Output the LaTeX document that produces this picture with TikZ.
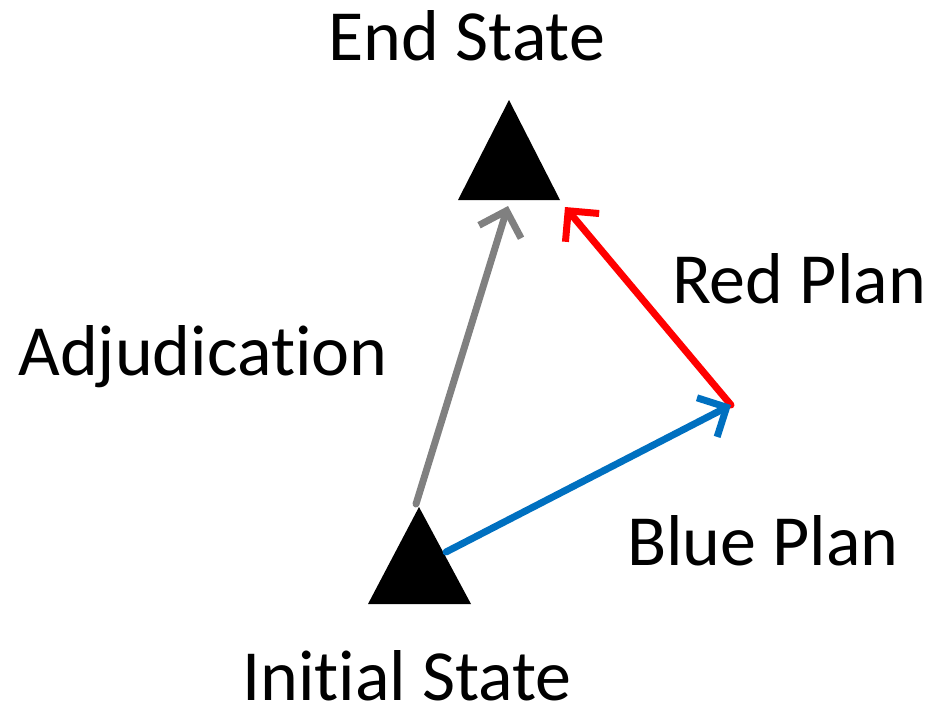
\documentclass[tikz,border=0pt]{standalone}
\usepackage{fontspec}
\setmainfont[Ligatures=NoCommon]{Carlito}
\usetikzlibrary{arrows.meta}

\definecolor{planred}{RGB}{255,0,0}
\definecolor{planblue}{RGB}{0,112,192}
\definecolor{adjgray}{RGB}{128,128,128}

\begin{document}
\begin{tikzpicture}[x=1pt,y=-1pt,
    label text/.style={anchor=base,inner sep=0pt,font=\fontsize{72}{80}\selectfont},
    plan arrow/.style={line width=7pt,line cap=round,
        -{Straight Barb[length=22pt,width=44pt,line width=7pt]}},
    state/.style={fill=black}]
    \useasboundingbox (0,0) rectangle (932,720);
    %\draw[help lines] (0,0) grid[step=50] (932,720);
    % states
    \fill[state] (509,100) -- (560,200) -- (458,200) -- cycle;
    \fill[state] (419,507) -- (471,604) -- (368,604) -- cycle;
    \coordinate (end) at (508,206);
    \coordinate (endright) at (565,207);
    \coordinate (initial) at (416,504);
    \coordinate (initialright) at (446,552);
    \coordinate (turn) at (731,405);
    % plans
    \draw[plan arrow,adjgray] (initial) -- (end);
    \draw[plan arrow,planred] (turn) -- (endright);
    \draw[plan arrow,planblue] (initialright) -- (turn);
    % labels
    \node[label text] (endlabel) at (467,60) {End State};
    \node[label text] (initiallabel) at (407,700) {Initial State};
    \node[label text] (adjlabel) at (203,375) {Adjudication};
    \node[label text] (redlabel) at (799,303) {Red Plan};
    \node[label text] (bluelabel) at (763,565) {Blue Plan};
\end{tikzpicture}
\end{document}
